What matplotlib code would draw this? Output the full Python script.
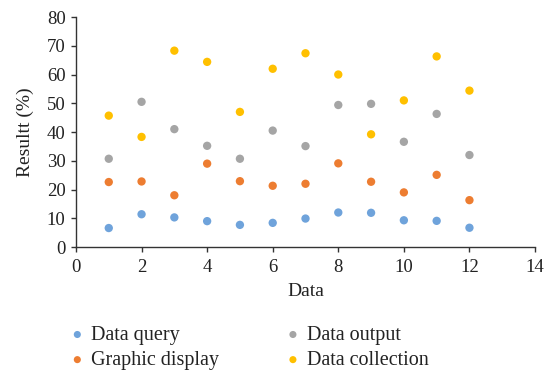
import matplotlib
matplotlib.use("Agg")
import matplotlib.pyplot as plt

# ─── Data ────────────────────────────────────────────────────
x_vals = [1, 2, 3, 4, 5, 6, 7, 8, 9, 10, 11, 12]
data_query = [6.6, 11.4, 10.3, 9.0, 7.7, 8.4, 9.9, 12.0, 11.9, 9.3, 9.1, 6.7]
graphic_display = [22.6, 22.8, 18.0, 29.0, 22.9, 21.3, 22.0, 29.1, 22.7, 19.0, 25.1, 16.3]
data_output = [30.7, 50.5, 41.0, 35.2, 30.7, 40.5, 35.1, 49.4, 49.8, 36.6, 46.3, 32.0]
data_collection = [45.7, 38.3, 68.3, 64.4, 47.0, 62.0, 67.4, 60.0, 39.2, 51.0, 66.3, 54.4]

series = [
    ("Data query", data_query, "#6FA3DB"),
    ("Graphic display", graphic_display, "#ED7D31"),
    ("Data output", data_output, "#A5A5A5"),
    ("Data collection", data_collection, "#FFC000"),
]

plt.rcParams["font.family"] = ["Liberation Serif", "DejaVu Serif"]
text_color = "#222222"
axis_color = "#333333"

fig = plt.figure(figsize=(5.45, 3.7), dpi=100, facecolor="white")
ax = fig.add_axes([0.1394, 0.3324, 0.8423, 0.6216])

handles = []
for name, vals, color in series:
    h = ax.scatter(x_vals, vals, s=36, color=color, edgecolors="none",
                   zorder=3, label=name)
    handles.append(h)

ax.set_xlim(0, 14)
ax.set_ylim(0, 80)
ax.set_xticks(range(0, 15, 2))
ax.set_yticks(range(0, 81, 10))
ax.tick_params(labelsize=13.5, colors=axis_color, labelcolor=text_color,
               length=3.5, width=1.0, direction="out")
ax.tick_params(axis="x", pad=5)
ax.tick_params(axis="y", pad=4)
for s in ["top", "right"]:
    ax.spines[s].set_visible(False)
for s in ["left", "bottom"]:
    ax.spines[s].set_color(axis_color)
    ax.spines[s].set_linewidth(1.0)

ax.set_xlabel("Data", fontsize=14, color=text_color, labelpad=5)
ax.set_ylabel("Resultt (%)", fontsize=14, color=text_color, labelpad=9)

# legend order: column-wise -> Data query, Graphic display | Data output, Data collection
fig.legend(handles=handles, loc="center", bbox_to_anchor=(0.456, 0.06),
           ncol=2, frameon=False, fontsize=14.5, markerscale=0.85,
           handletextpad=0.25, columnspacing=3.2, labelspacing=0.3,
           handlelength=0.9, labelcolor=text_color)

fig.savefig("out.png", dpi=100, facecolor="white")
